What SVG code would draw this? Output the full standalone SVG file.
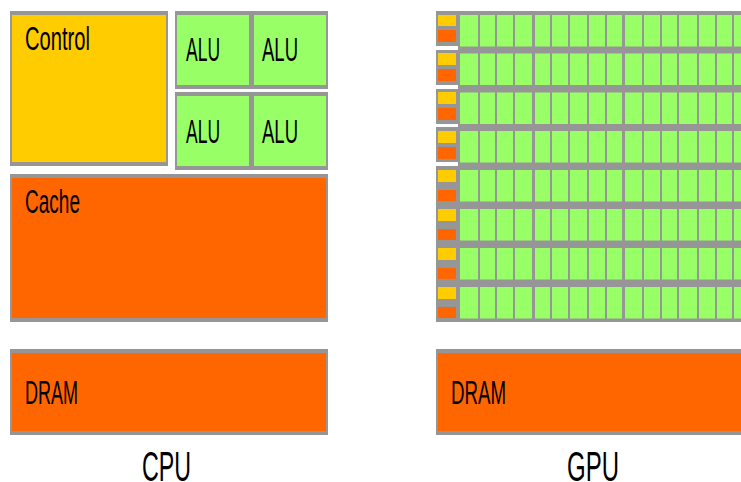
<svg xmlns="http://www.w3.org/2000/svg" xmlns:xlink="http://www.w3.org/1999/xlink" width="741" height="482" viewBox="0 0 741 482">
<style>
.gr{fill:#969696}
.y{fill:#FFCC00}
.o{fill:#FF6600}
.g{fill:#99FF66}
.t{font-family:"Liberation Sans",Arial,sans-serif;fill:#000;font-size:33px}
.big{font-family:"Liberation Sans",Arial,sans-serif;fill:#000;font-size:43px}
</style>
<defs>
<g id="cells">
<rect class="g" x="460" y="0" width="18" height="31.5"/>
<rect class="g" x="480" y="0" width="15" height="31.5"/>
<rect class="g" x="497" y="0" width="16" height="31.5"/>
<rect class="g" x="515" y="0" width="17" height="31.5"/>
<rect class="g" x="535" y="0" width="15" height="31.5"/>
<rect class="g" x="552" y="0" width="16" height="31.5"/>
<rect class="g" x="570" y="0" width="17" height="31.5"/>
<rect class="g" x="589" y="0" width="16" height="31.5"/>
<rect class="g" x="607" y="0" width="15" height="31.5"/>
<rect class="g" x="625" y="0" width="17" height="31.5"/>
<rect class="g" x="644" y="0" width="16" height="31.5"/>
<rect class="g" x="662" y="0" width="15" height="31.5"/>
<rect class="g" x="679" y="0" width="18" height="31.5"/>
<rect class="g" x="699" y="0" width="16" height="31.5"/>
<rect class="g" x="717" y="0" width="15" height="31.5"/>
<rect class="g" x="734" y="0" width="16" height="31.5"/>
</g>
</defs>

<g id="cpu-control">
<rect class="gr" x="10" y="11" width="158" height="155"/>
<rect class="y" x="12" y="15" width="154" height="147"/>
<text class="t" x="25" y="50" textLength="65" lengthAdjust="spacingAndGlyphs">Control</text>
</g>
<g id="cpu-alus">
<rect class="gr" x="175" y="11" width="153" height="78"/>
<rect class="gr" x="175" y="92" width="153" height="78"/>
<g id="alu1"><rect class="g" x="177" y="15" width="72" height="70"/><text class="t" x="186" y="61" textLength="34" lengthAdjust="spacingAndGlyphs">ALU</text></g>
<g id="alu2"><rect class="g" x="254" y="15" width="72" height="70"/><text class="t" x="262" y="61" textLength="36" lengthAdjust="spacingAndGlyphs">ALU</text></g>
<g id="alu3"><rect class="g" x="177" y="96" width="72" height="70"/><text class="t" x="186" y="143" textLength="34" lengthAdjust="spacingAndGlyphs">ALU</text></g>
<g id="alu4"><rect class="g" x="254" y="96" width="72" height="70"/><text class="t" x="262" y="143" textLength="36" lengthAdjust="spacingAndGlyphs">ALU</text></g>
</g>
<g id="cpu-cache">
<rect class="gr" x="10" y="174" width="318" height="148"/>
<rect class="o" x="12" y="178" width="314" height="140"/>
<text class="t" x="25" y="213" textLength="55" lengthAdjust="spacingAndGlyphs">Cache</text>
</g>
<g id="cpu-dram">
<rect class="gr" x="10" y="349" width="318" height="86"/>
<rect class="o" x="12" y="353" width="314" height="78"/>
<text class="t" x="25" y="404" textLength="53" lengthAdjust="spacingAndGlyphs">DRAM</text>
</g>
<g id="cpu-label">
<text class="big" x="142" y="481" textLength="49" lengthAdjust="spacingAndGlyphs">CPU</text>
</g>

<g id="gpu-cores">
<rect class="gr" x="436" y="11" width="305" height="311"/>
<rect fill="#fff" x="436" y="46" width="22" height="4"/>
<rect fill="#fff" x="436" y="85" width="22" height="4"/>
<rect fill="#fff" x="436" y="124" width="22" height="3"/>
<rect fill="#fff" x="436" y="162" width="22" height="4"/>
<use xlink:href="#cells" y="15"/>
<use xlink:href="#cells" y="53.5"/>
<use xlink:href="#cells" y="92.5"/>
<use xlink:href="#cells" y="131"/>
<use xlink:href="#cells" y="170"/>
<use xlink:href="#cells" y="209"/>
<use xlink:href="#cells" y="248"/>
<use xlink:href="#cells" y="287"/>
<rect class="y" x="438" y="15" width="18" height="11"/>
<rect class="o" x="438" y="30" width="18" height="12"/>
<rect class="y" x="438" y="53" width="18" height="12"/>
<rect class="o" x="438" y="69" width="18" height="12"/>
<rect class="y" x="438" y="92" width="18" height="12"/>
<rect class="o" x="438" y="108" width="18" height="12"/>
<rect class="y" x="438" y="131" width="18" height="12"/>
<rect class="o" x="438" y="147" width="18" height="12"/>
<rect class="y" x="438" y="170" width="18" height="12"/>
<rect class="o" x="438" y="190" width="18" height="11"/>
<rect class="y" x="438" y="209" width="18" height="12"/>
<rect class="o" x="438" y="229" width="18" height="11"/>
<rect class="y" x="438" y="248" width="18" height="12"/>
<rect class="o" x="438" y="268" width="18" height="11"/>
<rect class="y" x="438" y="287" width="18" height="12"/>
<rect class="o" x="438" y="307" width="18" height="11"/>
</g>
<g id="gpu-dram">
<rect class="gr" x="436" y="349" width="305" height="86"/>
<rect class="o" x="438" y="353" width="303" height="78"/>
<text class="t" x="451" y="404" textLength="55" lengthAdjust="spacingAndGlyphs">DRAM</text>
</g>
<g id="gpu-label">
<text class="big" x="567" y="481" textLength="52" lengthAdjust="spacingAndGlyphs">GPU</text>
</g>
<g id="connectors"></g>
</svg>
